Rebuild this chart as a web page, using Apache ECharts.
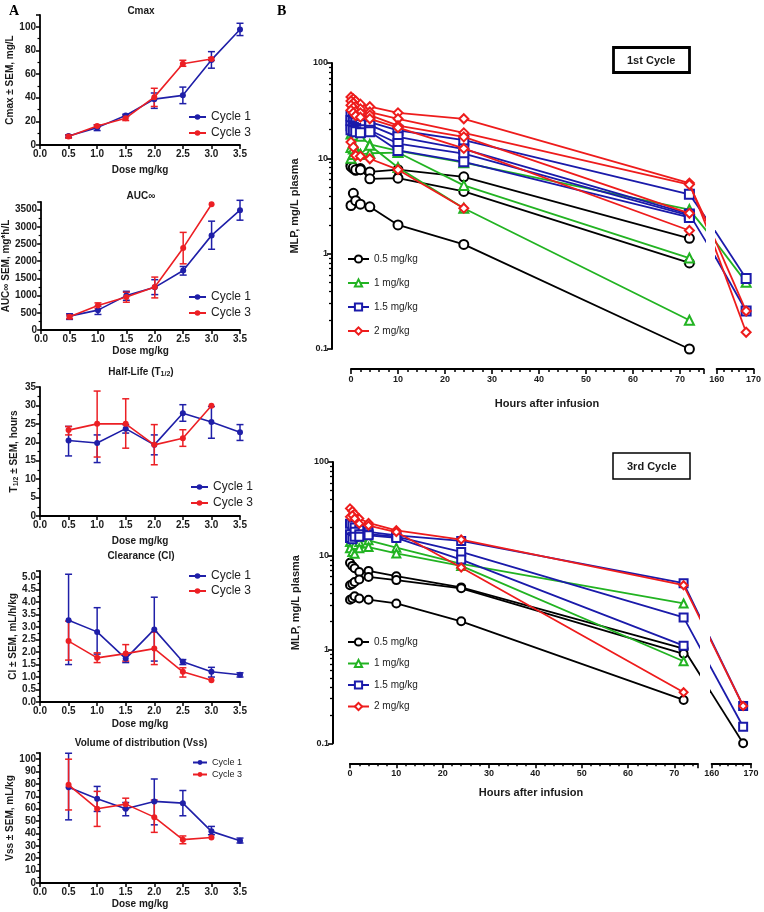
<!DOCTYPE html>
<html><head><meta charset="utf-8">
<script src="https://cdn.jsdelivr.net/npm/echarts@6/dist/echarts.min.js"></script>
<style>html,body{margin:0;padding:0;background:#fff}#c{width:764px;height:912px}</style>
</head><body><div id="c"></div>
<script>
// ---------------- Panel A data ----------------
const doses = [0.5, 1.0, 1.5, 2.0, 2.5, 3.0, 3.5];
const doseTickLabels = ['0.0','0.5','1.0','1.5','2.0','2.5','3.0','3.5'];

const cmaxCycle1     = [7.6, 14.7, 25.0, 38.8, 42.0, 72.0, 97.7];
const cmaxCycle1Low  = [6.5, 12.2, 24.0, 31.0, 35.0, 65.0, 92.6];
const cmaxCycle1High = [8.6, 17.0, 26.0, 44.0, 49.0, 79.0, 103.0];
const cmaxCycle3     = [7.1, 16.1, 22.7, 40.5, 68.8, 72.8, null];
const cmaxCycle3Low  = [5.8, 15.0, 20.7, 32.6, 66.6, 71.5, null];
const cmaxCycle3High = [8.5, 17.0, 24.6, 48.0, 71.7, 74.0, null];

const aucCycle1     = [404, 577, 1000, 1240, 1731, 2750, 3481];
const aucCycle1Low  = [308, 452, 865, 1029, 1596, 2346, 3192];
const aucCycle1High = [471, 692, 1125, 1462, 1846, 3163, 3769];
const aucCycle3     = [385, 712, 962, 1250, 2385, 3654, null];
const aucCycle3Low  = [330, 615, 808, 933, 1923, null, null];
const aucCycle3High = [440, 788, 1096, 1538, 2837, null, null];

const halfLifeCycle1     = [20.5, 19.8, 23.7, 19.3, 27.9, 25.5, 22.7];
const halfLifeCycle1Low  = [16.3, 14.5, 22.5, 16.6, 25.7, 21.1, 20.5];
const halfLifeCycle1High = [24.3, 22.0, 24.8, 22.0, 30.2, 29.7, 24.8];
const halfLifeCycle3     = [23.3, 25.0, 25.0, 19.3, 21.1, 29.9, null];
const halfLifeCycle3Low  = [22.0, 16.0, 18.4, 13.9, 18.9, null, null];
const halfLifeCycle3High = [24.3, 33.9, 31.8, 24.8, 23.4, null, null];

const clCycle1     = [3.28, 2.81, 1.74, 2.91, 1.61, 1.21, 1.09];
const clCycle1Low  = [1.50, 1.92, 1.58, 1.64, 1.50, 1.00, 1.00];
const clCycle1High = [5.12, 3.78, 1.90, 4.20, 1.70, 1.39, 1.17];
const clCycle3     = [2.44, 1.77, 1.94, 2.14, 1.21, 0.87, null];
const clCycle3Low  = [1.68, 1.58, 1.64, 1.50, 1.00, null, null];
const clCycle3High = [3.24, 1.97, 2.30, 2.80, 1.37, null, null];

const vssCycle1     = [77.4, 68.0, 60.0, 65.9, 64.5, 41.7, 34.1];
const vssCycle1Low  = [51.0, 57.8, 54.3, 47.0, 54.3, 39.0, 32.3];
const vssCycle1High = [104.8, 78.0, 65.0, 84.0, 74.7, 45.7, 36.3];
const vssCycle3     = [79.3, 60.0, 63.7, 53.2, 35.0, 36.8, null];
const vssCycle3Low  = [59.0, 45.7, 59.7, 40.9, 31.7, null, null];
const vssCycle3High = [100.0, 74.0, 68.5, 67.0, 38.0, null, null];

// ---------------- Panel B data ----------------
const hours = [0, 0.5, 1, 2, 4, 10, 24, 72, 168];
const hourTicksLeft = [0, 10, 20, 30, 40, 50, 60, 70];
const hourTicksRight = [160, 170];
const logMinorTicks = [0.2, 0.3, 0.4, 0.5, 0.6, 0.7, 0.8, 0.9, 2, 3, 4, 5, 6, 7, 8, 9, 20, 30, 40, 50, 60, 70, 80, 90];
const doseGroups = ['0.5 mg/kg', '1 mg/kg', '1.5 mg/kg', '2 mg/kg'];

const cycle1Dose05 = [
  [8.5, 7.8, 7.5, 7.8, 7.2, 7.6, 6.4, 1.45, null],
  [8.2, 8.0, 7.6, 7.6, 6.1, 6.2, 4.5, 0.8, null],
  [3.2, 4.3, 3.6, 3.3, 3.1, 2.0, 1.25, 0.1, null]
];
const cycle1Dose1 = [
  [18, 18, 17.5, 17, 14, 12, 9.0, 2.9, 0.5],
  [10, 11, 12.6, 11, 11.3, 11.5, 5.2, 0.9, null],
  [13, 12.5, 12, 11, 13.7, 8.0, 3.0, 0.2, null]
];
const cycle1Dose15 = [
  [28, 27, 26, 25, 24, 19.7, 15.5, 4.2, 0.55],
  [25, 24, 23.5, 22.5, 22.3, 16.8, 12.5, 2.6, 0.25],
  [22, 21, 20.5, 20, 19.7, 14.3, 11.2, 2.5, null],
  [20, 19.5, 19, 18.5, 19, 12.1, 9.2, 2.4, null]
];
const cycle1Dose2 = [
  [44, 42, 40, 37, 34.8, 30, 26, 5.5, 0.15],
  [40, 38, 35, 33, 30.6, 26, 18.5, 5.3, 0.25],
  [36, 34, 31, 30, 28.4, 22, 16.8, 2.65, null],
  [32, 30, 28, 27, 26, 21, 12.7, 1.75, null],
  [14.8, 13.1, 10.7, 10.5, 9.9, 7.6, 3.0, null, null]
];

const cycle3Dose05 = [
  [8.4, 7.8, 7.35, 6.7, 6.9, 6.05, 4.6, 1.02, 0.1],
  [4.85, 5.0, 5.25, 5.6, 5.95, 5.5, 4.5, 0.9, null],
  [3.4, 3.5, 3.7, 3.5, 3.4, 3.1, 2.0, 0.29, null]
];
const cycle3Dose1 = [
  [14, 13.5, 13, 14, 14.6, 12.2, 8.2, 3.1, null],
  [12, 11, 10.5, 12, 12.4, 10.6, 7.8, 0.75, null]
];
const cycle3Dose15 = [
  [22, 21, 20, 19, 18, 16.5, 14.4, 5.1, 0.25],
  [17, 16, 18, 17, 17, 16, 11, 2.2, 0.15],
  [15.5, 15, 16, 16, 16.5, 15.5, 9.1, 1.1, null]
];
const cycle3Dose2 = [
  [32, 30, 28, 25, 22.4, 18.7, 14.9, 4.85, 0.25],
  [26, 27, 25, 22, 21, 17.9, 7.5, 0.35, null]
];

// ---------------- styles / layout ----------------
const FONT = '"Liberation Sans", Arial, sans-serif';
const TXT = '#1a1a1a';
const BLUE = '#1f1fa8';
const RED = '#ec1f24';
const PK_STYLE = {
  '0.5 mg/kg': { color: '#000000', symbol: 'emptyCircle' },
  '1 mg/kg':   { color: '#22b322', symbol: 'emptyTriangle' },
  '1.5 mg/kg': { color: '#1a1aaa', symbol: 'emptyRect' },
  '2 mg/kg':   { color: '#ee1c1c', symbol: 'emptyDiamond' }
};

const grids = [], xAxes = [], yAxes = [], extraYAxes = [], series = [], legends = [], titles = [];
const boldText = (size) => ({ fontFamily: FONT, fontWeight: 'bold', fontSize: size, color: TXT });
const subRich = {
  sub: { fontFamily: FONT, fontWeight: 'bold', fontSize: 7, color: TXT, verticalAlign: 'bottom', padding: [4, 0, 0, 0] }
};

const leftPanels = [
  { title: 'Cmax', yName: 'Cmax ± SEM, mg/L', top: 15, bottom: 145, max: 110, interval: 20,
    fmt: v => String(v), c1: [cmaxCycle1, cmaxCycle1Low, cmaxCycle1High], c3: [cmaxCycle3, cmaxCycle3Low, cmaxCycle3High],
    yNameGap: 24, xNameGap: 20, titleTop: 6, legendTop: 111, legendLeft: 188, legendFont: 12, legendGap: 4 },
  { title: 'AUC∞', yName: 'AUC∞ SEM, mg*h/L', top: 202, bottom: 330, max: 3720, interval: 500,
    fmt: v => String(v), c1: [aucCycle1, aucCycle1Low, aucCycle1High], c3: [aucCycle3, aucCycle3Low, aucCycle3High],
    yNameGap: 30, xNameGap: 16, titleTop: 191, legendTop: 291, legendLeft: 188, legendFont: 12, legendGap: 4 },
  { title: 'Half-Life (T{sub|1/2})', yName: 'T{sub|1/2} ± SEM, hours', top: 387, bottom: 516, max: 35, interval: 5,
    fmt: v => String(v), c1: [halfLifeCycle1, halfLifeCycle1Low, halfLifeCycle1High], c3: [halfLifeCycle3, halfLifeCycle3Low, halfLifeCycle3High],
    yNameGap: 20, xNameGap: 20, titleTop: 367, legendTop: 481, legendLeft: 190, legendFont: 12, legendGap: 4 },
  { title: 'Clearance (Cl)', yName: 'Cl ± SEM, mL/h/kg', top: 571, bottom: 702, max: 5.25, interval: 0.5,
    fmt: v => v.toFixed(1), c1: [clCycle1, clCycle1Low, clCycle1High], c3: [clCycle3, clCycle3Low, clCycle3High],
    yNameGap: 22, xNameGap: 17, titleTop: 551, legendTop: 570, legendLeft: 188, legendFont: 12, legendGap: 3 },
  { title: 'Volume of distribution (Vss)', yName: 'Vss ± SEM, mL/kg', top: 753, bottom: 883, max: 105, interval: 10,
    fmt: v => String(v), c1: [vssCycle1, vssCycle1Low, vssCycle1High], c3: [vssCycle3, vssCycle3Low, vssCycle3High],
    yNameGap: 22, xNameGap: 16, titleTop: 738, legendTop: 758, legendLeft: 192, legendFont: 9, legendGap: 3 }
];

function errSeries(k, lo, hi, color, name) {
  const data = [];
  doses.forEach((d, i) => { if (lo[i] != null) data.push([d, lo[i], hi[i]]); });
  return {
    type: 'custom', name, xAxisIndex: k, yAxisIndex: k, silent: true, z: 2, clip: false,
    encode: { x: 0, y: [1, 2] }, data,
    renderItem: (params, api) => {
      const x = api.value(0);
      const p1 = api.coord([x, api.value(1)]);
      const p2 = api.coord([x, api.value(2)]);
      const w = 3.5;
      const st = { stroke: color, lineWidth: 1.5 };
      return { type: 'group', children: [
        { type: 'line', shape: { x1: p1[0], y1: p1[1], x2: p2[0], y2: p2[1] }, style: st },
        { type: 'line', shape: { x1: p1[0] - w, y1: p1[1], x2: p1[0] + w, y2: p1[1] }, style: st },
        { type: 'line', shape: { x1: p2[0] - w, y1: p2[1], x2: p2[0] + w, y2: p2[1] }, style: st }
      ]};
    }
  };
}
function pairs(xs, ys) { const out = []; xs.forEach((x, i) => { if (ys[i] != null) out.push([x, ys[i]]); }); return out; }

leftPanels.forEach((p, k) => {
  grids.push({ left: 40, width: 200, top: p.top, height: p.bottom - p.top });
  xAxes.push({
    gridIndex: k, type: 'value', min: 0, max: 3.5, interval: 0.5,
    name: 'Dose mg/kg', nameLocation: 'middle', nameGap: p.xNameGap, nameTextStyle: boldText(10),
    axisLine: { onZero: false, lineStyle: { color: '#000', width: 1.8 } },
    axisTick: { length: 4, lineStyle: { color: '#000', width: 1.5 } },
    axisLabel: { formatter: v => doseTickLabels[Math.round(v / 0.5)], margin: 4, ...boldText(10) },
    splitLine: { show: false }
  });
  yAxes.push({
    gridIndex: k, type: 'value', min: 0, max: p.max, interval: p.interval, position: 'left',
    name: p.yName, nameLocation: 'middle', nameGap: p.yNameGap,
    nameTextStyle: { ...boldText(10), rich: subRich },
    axisLine: { show: true, onZero: false, lineStyle: { color: '#000', width: 1.8 } },
    axisTick: { show: true, length: 4, lineStyle: { color: '#000', width: 1.5 } },
    minorTick: { show: true, splitNumber: 2, length: 2.5, lineStyle: { color: '#000', width: 1.2 } },
    axisLabel: { formatter: p.fmt, showMaxLabel: Math.abs(p.max / p.interval - Math.round(p.max / p.interval)) < 1e-9, margin: 4, ...boldText(10) },
    splitLine: { show: false }
  });
  series.push(errSeries(k, p.c1[1], p.c1[2], BLUE, 'err1'));
  series.push(errSeries(k, p.c3[1], p.c3[2], RED, 'err3'));
  series.push({ type: 'line', name: 'Cycle 1', xAxisIndex: k, yAxisIndex: k, data: pairs(doses, p.c1[0]),
    symbol: 'circle', symbolSize: 6, lineStyle: { color: BLUE, width: 1.6 }, itemStyle: { color: BLUE }, z: 3 });
  series.push({ type: 'line', name: 'Cycle 3', xAxisIndex: k, yAxisIndex: k, data: pairs(doses, p.c3[0]),
    symbol: 'circle', symbolSize: 6, lineStyle: { color: RED, width: 1.6 }, itemStyle: { color: RED }, z: 4 });
  titles.push({ text: p.title, left: 141, top: p.titleTop, textAlign: 'center', padding: 0,
    textStyle: { ...boldText(10), rich: subRich } });
  legends.push({ data: ['Cycle 1', 'Cycle 3'], orient: 'vertical', left: p.legendLeft, top: p.legendTop,
    itemGap: p.legendGap, itemWidth: p.legendFont > 10 ? 17 : 14, itemHeight: p.legendFont > 10 ? 7 : 6, padding: 0,
    selectedMode: false, textStyle: { fontFamily: FONT, fontSize: p.legendFont, color: '#222', lineHeight: p.legendFont } });
});

// ---------------- Panel B builder (broken x axis: two grids) ----------------
const pkPanels = [
  { groups: [cycle1Dose05, cycle1Dose1, cycle1Dose15, cycle1Dose2], yTop: 63, yBottom: 349, yAxisX: 332,
    leftPx: 351, leftW: 352.5, leftMax: 75, rightPx: 716.7, rightW: 39, rightMin: 160, rightMax: 170,
    symbolSize: 9, legendTop: 253, legendGap: 12, box: '1st Cycle', boxTop: 47, boxBorder: 2.8,
    xNameLeft: 547, xNameTop: 398 },
  { groups: [cycle3Dose05, cycle3Dose1, cycle3Dose15, cycle3Dose2], yTop: 462, yBottom: 743.3, yAxisX: 333,
    leftPx: 350, leftW: 347.5, leftMax: 75, rightPx: 711.7, rightW: 39.3, rightMin: 160, rightMax: 170,
    symbolSize: 8, legendTop: 636, legendGap: 9.5, box: '3rd Cycle', boxTop: 453, boxBorder: 1.5,
    xNameLeft: 531, xNameTop: 787 }
];

pkPanels.forEach(c => {
  const gL = grids.length, gR = gL + 1;
  const h = c.yBottom - c.yTop;
  grids.push({ left: c.leftPx, top: c.yTop, width: c.leftW, height: h });
  grids.push({ left: c.rightPx, top: c.yTop, width: c.rightW, height: h });
  const sL = c.leftW / c.leftMax;
  const sR = c.rightW / (c.rightMax - c.rightMin);
  const gap = c.rightPx - (c.leftPx + c.leftW);
  const toL = t => t <= c.leftMax ? t : c.leftMax + (gap + (t - c.rightMin) * sR) / sL;
  const toR = t => t >= c.rightMin ? t : c.rightMin - (gap + (c.leftMax - t) * sL) / sR;
  const xCommon = {
    type: 'value', interval: 10, offset: 20,
    axisLine: { onZero: false, lineStyle: { color: '#000', width: 2 } },
    axisTick: { length: 5, lineStyle: { color: '#000', width: 1.6 } },
    minorTick: { show: true, splitNumber: 5, length: 3, lineStyle: { color: '#000', width: 1.5 } },
    axisLabel: { margin: 6, showMaxLabel: true, ...boldText(9) },
    splitLine: { show: false }
  };
  xAxes.push({ ...xCommon, gridIndex: gL, min: 0, max: c.leftMax,
    axisLabel: { ...xCommon.axisLabel, formatter: v => hourTicksLeft.includes(v) ? String(v) : '' } });
  xAxes.push({ ...xCommon, gridIndex: gR, min: c.rightMin, max: c.rightMax,
    axisLabel: { ...xCommon.axisLabel, formatter: v => hourTicksRight.includes(v) ? String(v) : '' } });
  yAxes.push({
    gridIndex: gL, type: 'log', logBase: 10, min: 0.1, max: 100, position: 'left', offset: c.leftPx - c.yAxisX,
    name: 'MLP, mg/L plasma', nameLocation: 'middle', nameGap: 32, nameTextStyle: boldText(11),
    axisLine: { show: true, onZero: false, lineStyle: { color: '#000', width: 2 } },
    axisTick: { show: true, length: 5, lineStyle: { color: '#000', width: 1.6 } },
    axisLabel: { formatter: v => String(+Number(v).toPrecision(2)), margin: 4, ...boldText(9) },
    splitLine: { show: false }
  });
  yAxes.push({ gridIndex: gR, type: 'log', logBase: 10, min: 0.1, max: 100, show: false });
  // minor log ticks (2..9 per decade) on an overlaid, label-less log axis
  extraYAxes.push({
    gridIndex: gL, type: 'log', logBase: 10, min: 0.1, max: 100, position: 'left', offset: c.leftPx - c.yAxisX,
    axisLine: { show: false, onZero: false }, axisLabel: { show: false }, splitLine: { show: false },
    axisTick: { show: true, customValues: logMinorTicks, length: 3, lineStyle: { color: '#000', width: 1.3 } }
  });

  c.groups.forEach((profiles, gi) => {
    const name = doseGroups[gi];
    const st = PK_STYLE[name];
    profiles.forEach(prof => {
      const pts = pairs(hours, prof);
      const common = { type: 'line', name, symbol: st.symbol, symbolSize: c.symbolSize, clip: true,
        lineStyle: { color: st.color, width: 1.8 }, itemStyle: { color: st.color, borderWidth: 1.8 }, z: 3 + gi };
      series.push({ ...common, xAxisIndex: gL, yAxisIndex: gL, data: pts.map(q => [toL(q[0]), q[1]]) });
      if (pts[pts.length - 1][0] >= c.rightMin) {
        series.push({ ...common, xAxisIndex: gR, yAxisIndex: gR, data: pts.slice(-2).map(q => [toR(q[0]), q[1]]) });
      }
    });
  });
  legends.push({ data: doseGroups, orient: 'vertical', left: 347, top: c.legendTop, itemGap: c.legendGap,
    itemWidth: 21, itemHeight: 9, padding: 0, selectedMode: false,
    textStyle: { fontFamily: FONT, fontSize: 10, color: '#222', lineHeight: 12 } });
  titles.push({ text: c.box, left: 613, top: c.boxTop, padding: [8, 14, 7, 14], borderColor: '#000',
    borderWidth: c.boxBorder, textStyle: boldText(11) });
  titles.push({ text: 'Hours after infusion', left: c.xNameLeft, top: c.xNameTop, textAlign: 'center', padding: 0,
    textStyle: boldText(11) });
});

titles.push({ text: 'A', left: 9, top: 4, padding: 0, textStyle: { fontFamily: '"Liberation Serif", serif', fontWeight: 'bold', fontSize: 14, color: '#000' } });
titles.push({ text: 'B', left: 277, top: 4, padding: 0, textStyle: { fontFamily: '"Liberation Serif", serif', fontWeight: 'bold', fontSize: 14, color: '#000' } });

const chart = echarts.init(document.getElementById('c'), null, { renderer: 'canvas' });
chart.setOption({
  animation: false,
  backgroundColor: '#fff',
  title: titles,
  legend: legends,
  grid: grids,
  xAxis: xAxes,
  yAxis: yAxes.concat(extraYAxes),
  series
});
</script></body></html>
